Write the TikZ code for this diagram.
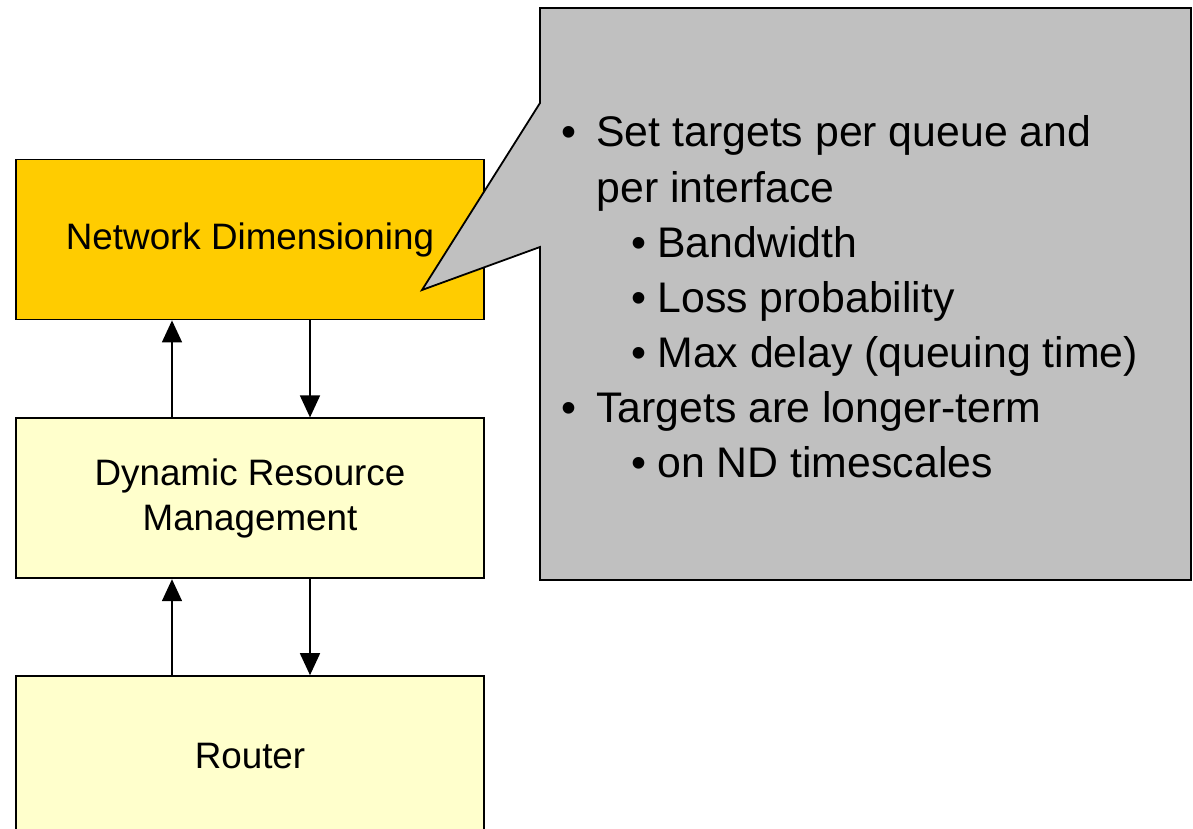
\documentclass[tikz,border=0pt]{standalone}
\usepackage{fontspec}
\setmainfont{Liberation Sans}
\usepackage{xcolor}
\usepackage{tikz}
\usetikzlibrary{positioning,calc,arrows.meta}
\definecolor{NDYellow}{RGB}{255,204,0}
\definecolor{PaleYellow}{RGB}{255,255,204}
\definecolor{NoteGray}{RGB}{192,192,192}

\begin{document}
\begin{tikzpicture}[
        x=0.5pt, y=-0.5pt,
        % --- STYLE ---
        % Hop cac khoi chuc nang
        blockbox/.style={
            draw=black,
            line width=0.9pt,
            minimum width=234pt,
            minimum height=80pt,
            inner sep=0pt,
            align=center,
            font=\fontsize{18.4}{22.5}\selectfont
        },
        % Mui ten noi cac khoi
        flowline/.style={
            draw=black,
            line width=0.8pt,
            -{Triangle[length=11pt,width=10pt]}
        },
        % Hop chu thich (xam)
        notebox/.style={
            draw=black,
            fill=NoteGray,
            line width=0.9pt,
            line join=miter
        },
        notetext/.style={anchor=base west, inner sep=0pt, font=\fontsize{21.4}{26}\selectfont},
        notebullet/.style={anchor=base, inner sep=0pt, font=\fontsize{21.4}{26}\selectfont}
    ]

        \useasboundingbox (0,0) rectangle (1193,829);
        \clip (0,0) rectangle (1193,829);

        % --- CAC KHOI ---
        \node[blockbox, fill=NDYellow] (nd) at (250,239.5) {\raisebox{-1.5pt}{Network Dimensioning}};
        \node[blockbox, fill=PaleYellow, below=48.5pt of nd] (drm) {Dynamic Resource\\Management};
        \node[blockbox, fill=PaleYellow, below=48pt of drm] (router) {Router};

        % --- MUI TEN LEN / XUONG ---
        \coordinate (upx) at (172,0);
        \coordinate (dnx) at (310,0);
        \draw[flowline] (drm.north -| upx) -- (nd.south -| upx);
        \draw[flowline] (nd.south -| dnx) -- (drm.north -| dnx);
        \draw[flowline] (router.north -| upx) -- (drm.south -| upx);
        \draw[flowline] (drm.south -| dnx) -- (router.north -| dnx);

        % --- HOP CHU THICH ---
        \coordinate (tip) at (422,290);
        \draw[notebox] (540,8) -- (1191,8) -- (1191,580) -- (540,580)
            -- (540,247) -- (tip) -- (540,103) -- cycle;

        % Muc 1
        \node[notebullet] (b1) at (569,147) {•};
        \node[notetext] (l1) at (596,147) {Set targets per queue and};
        \node[notetext] (l2) at (596,202) {per interface};
        \node[notebullet] (b2) at (639,257) {•};
        \node[notetext] (l3) at (657,257) {Bandwidth};
        \node[notebullet] (b3) at (639,312) {•};
        \node[notetext] (l4) at (657,312) {Loss probability};
        \node[notebullet] (b4) at (639,367) {•};
        \node[notetext] (l5) at (657,367) {Max delay (queuing time)};
        % Muc 2
        \node[notebullet] (b5) at (569,422) {•};
        \node[notetext] (l6) at (596,422) {Targets are longer-term};
        \node[notebullet] (b6) at (639,477) {•};
        \node[notetext] (l7) at (657,477) {on ND timescales};

    \end{tikzpicture}
\end{document}
